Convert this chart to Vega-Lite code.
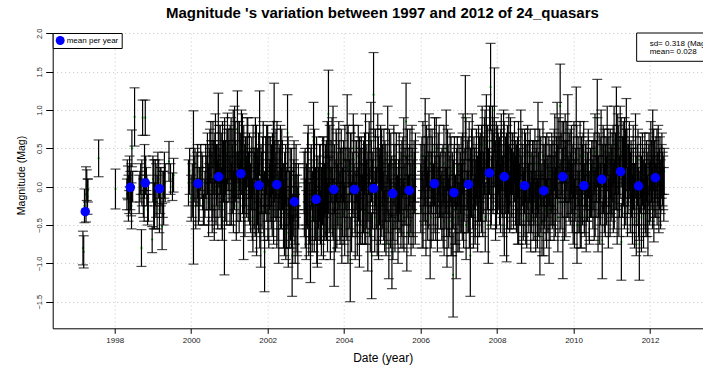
{
"$schema":"https://vega.github.io/schema/vega-lite/v6.json",
"width":650.3,"height":295.3,
"autosize":{"type":"none"},
"padding":{"left":52.7,"top":33,"right":0,"bottom":43.7},
"background":"white",
"config":{"view":{"stroke":null},"font":"Liberation Sans"},
"datasets":{
"obs":[
{"t":1997.17,"m":-0.80,"e":0.22},{"t":1997.19,"m":-0.85,"e":0.21},{"t":1997.21,"m":-0.25,"e":0.22},{"t":1997.25,"m":-0.10,"e":0.36},{"t":1997.27,"m":0.02,"e":0.20},{"t":1997.29,"m":-0.13,"e":0.23},{"t":1997.30,"m":-0.05,"e":0.15},
{"t":1997.58,"m":0.37,"e":0.24},{"t":1998.02,"m":-0.03,"e":0.26},
{"t":1998.32,"m":-0.10,"e":0.20},{"t":1998.35,"m":0.05,"e":0.22},{"t":1998.38,"m":-0.20,"e":0.15},{"t":1998.41,"m":-0.05,"e":0.25},{"t":1998.43,"m":-0.04,"e":0.34},{"t":1998.45,"m":0.50,"e":0.24},{"t":1998.52,"m":0.91,"e":0.38},
{"t":1998.33,"m":0.10,"e":0.25},{"t":1998.36,"m":-0.15,"e":0.30},{"t":1998.39,"m":0.20,"e":0.20},{"t":1998.44,"m":-0.25,"e":0.30},{"t":1998.47,"m":0.00,"e":0.20},
{"t":1998.66,"m":0.00,"e":0.20},{"t":1998.68,"m":0.10,"e":0.20},{"t":1998.70,"m":-0.80,"e":0.24},{"t":1998.73,"m":0.90,"e":0.23},{"t":1998.75,"m":-0.15,"e":0.25},{"t":1998.78,"m":0.20,"e":0.35},{"t":1998.80,"m":0.90,"e":0.23},{"t":1998.83,"m":0.10,"e":0.15},{"t":1998.86,"m":-0.30,"e":0.20},
{"t":1998.64,"m":-0.10,"e":0.25},{"t":1998.71,"m":0.05,"e":0.30},{"t":1998.77,"m":-0.25,"e":0.20},{"t":1998.81,"m":0.15,"e":0.25},{"t":1998.84,"m":-0.05,"e":0.20},{"t":1998.88,"m":-0.20,"e":0.25},
{"t":1998.98,"m":-0.69,"e":0.17},{"t":1999.02,"m":-0.10,"e":0.45},{"t":1999.06,"m":0.05,"e":0.30},{"t":1999.11,"m":-0.20,"e":0.35},{"t":1999.15,"m":0.10,"e":0.25},{"t":1999.19,"m":-0.05,"e":0.30},{"t":1999.24,"m":-0.52,"e":0.30},{"t":1999.28,"m":-0.15,"e":0.35},{"t":1999.32,"m":0.05,"e":0.25},
{"t":1999.00,"m":0.10,"e":0.30},{"t":1999.04,"m":-0.25,"e":0.30},{"t":1999.08,"m":-0.05,"e":0.35},{"t":1999.13,"m":0.20,"e":0.25},{"t":1999.17,"m":-0.30,"e":0.30},{"t":1999.21,"m":0.00,"e":0.25},{"t":1999.26,"m":-0.10,"e":0.30},{"t":1999.30,"m":0.15,"e":0.30},
{"t":1999.42,"m":0.33,"e":0.26},{"t":1999.46,"m":0.10,"e":0.20},{"t":1999.51,"m":0.00,"e":0.18},{"t":1999.54,"m":0.15,"e":0.22},
{"t":1999.93,"m":0.05,"e":0.30},{"t":2000.00,"m":-0.15,"e":0.30},{"t":2000.06,"m":-0.01,"e":1.00},{"t":2000.10,"m":0.30,"e":0.20},{"t":2000.15,"m":0.10,"e":0.35},{"t":2000.19,"m":-0.20,"e":0.30},{"t":2000.23,"m":0.00,"e":0.25},{"t":2000.28,"m":0.15,"e":0.30},{"t":2000.32,"m":-0.30,"e":0.20},{"t":2000.36,"m":-0.10,"e":0.30},
{"t":1999.96,"m":0.20,"e":0.30},{"t":2000.03,"m":-0.05,"e":0.35},{"t":2000.08,"m":0.10,"e":0.30},{"t":2000.12,"m":-0.25,"e":0.30},{"t":2000.17,"m":0.20,"e":0.35},{"t":2000.21,"m":-0.10,"e":0.35},{"t":2000.25,"m":0.25,"e":0.30},{"t":2000.30,"m":0.05,"e":0.35},{"t":2000.34,"m":-0.20,"e":0.30},{"t":2000.38,"m":0.20,"e":0.35},
{"t":2000.41,"m":0.05,"e":0.35},{"t":2000.44,"m":0.25,"e":0.30},{"t":2000.46,"m":-0.10,"e":0.40},{"t":2000.49,"m":0.40,"e":0.35},{"t":2000.52,"m":0.15,"e":0.45},{"t":2000.55,"m":-0.25,"e":0.35},{"t":2000.57,"m":0.55,"e":0.30},{"t":2000.60,"m":0.10,"e":0.50},{"t":2000.62,"m":0.30,"e":0.40},{"t":2000.65,"m":-0.05,"e":0.45},{"t":2000.68,"m":0.20,"e":0.35},{"t":2000.71,"m":0.70,"e":0.52},{"t":2000.73,"m":0.00,"e":0.30},{"t":2000.76,"m":0.35,"e":0.45},{"t":2000.79,"m":-0.15,"e":0.40},{"t":2000.82,"m":0.45,"e":0.40},{"t":2000.85,"m":0.10,"e":0.30},{"t":2000.87,"m":-0.45,"e":0.70},{"t":2000.90,"m":0.25,"e":0.35},{"t":2000.93,"m":-0.20,"e":0.30},{"t":2000.95,"m":0.50,"e":0.46},
{"t":2000.425,"m":0.30,"e":0.40},{"t":2000.455,"m":-0.20,"e":0.45},{"t":2000.485,"m":0.10,"e":0.40},{"t":2000.515,"m":0.45,"e":0.40},{"t":2000.545,"m":0.00,"e":0.45},{"t":2000.575,"m":0.25,"e":0.35},{"t":2000.605,"m":-0.30,"e":0.40},{"t":2000.635,"m":0.50,"e":0.45},{"t":2000.665,"m":0.15,"e":0.40},{"t":2000.695,"m":-0.10,"e":0.45},{"t":2000.725,"m":0.40,"e":0.40},{"t":2000.755,"m":0.05,"e":0.45},{"t":2000.785,"m":0.30,"e":0.40},{"t":2000.815,"m":-0.25,"e":0.45},{"t":2000.845,"m":0.20,"e":0.40},{"t":2000.875,"m":0.55,"e":0.35},{"t":2000.905,"m":0.00,"e":0.45},{"t":2000.935,"m":0.35,"e":0.40},
{"t":2000.99,"m":0.20,"e":0.40},{"t":2001.02,"m":0.45,"e":0.35},{"t":2001.05,"m":-0.10,"e":0.40},{"t":2001.07,"m":0.30,"e":0.45},{"t":2001.10,"m":0.60,"e":0.40},{"t":2001.13,"m":0.05,"e":0.35},{"t":2001.15,"m":0.35,"e":0.50},{"t":2001.18,"m":-0.25,"e":0.45},{"t":2001.21,"m":0.75,"e":0.50},{"t":2001.23,"m":0.15,"e":0.30},{"t":2001.26,"m":0.40,"e":0.45},{"t":2001.29,"m":-0.05,"e":0.40},{"t":2001.31,"m":0.25,"e":0.35},{"t":2001.34,"m":0.55,"e":0.40},{"t":2001.37,"m":-0.35,"e":0.60},{"t":2001.40,"m":0.10,"e":0.45},{"t":2001.42,"m":0.30,"e":0.35},{"t":2001.45,"m":0.00,"e":0.40},{"t":2001.48,"m":0.45,"e":0.45},{"t":2001.51,"m":0.15,"e":0.30},{"t":2001.53,"m":-0.15,"e":0.35},
{"t":2000.985,"m":0.35,"e":0.40},{"t":2001.015,"m":-0.05,"e":0.45},{"t":2001.045,"m":0.50,"e":0.40},{"t":2001.075,"m":0.10,"e":0.45},{"t":2001.105,"m":-0.20,"e":0.40},{"t":2001.135,"m":0.60,"e":0.45},{"t":2001.165,"m":0.20,"e":0.40},{"t":2001.195,"m":0.00,"e":0.45},{"t":2001.225,"m":0.45,"e":0.40},{"t":2001.255,"m":-0.15,"e":0.45},{"t":2001.285,"m":0.30,"e":0.40},{"t":2001.315,"m":0.55,"e":0.45},{"t":2001.345,"m":0.05,"e":0.40},{"t":2001.375,"m":0.35,"e":0.45},{"t":2001.405,"m":-0.25,"e":0.40},{"t":2001.435,"m":0.20,"e":0.45},{"t":2001.465,"m":0.50,"e":0.40},{"t":2001.495,"m":0.00,"e":0.45},{"t":2001.525,"m":0.30,"e":0.40},
{"t":2001.57,"m":0.10,"e":0.40},{"t":2001.60,"m":-0.30,"e":0.40},{"t":2001.62,"m":0.35,"e":0.45},{"t":2001.65,"m":-0.05,"e":0.50},{"t":2001.68,"m":0.50,"e":0.40},{"t":2001.71,"m":-0.45,"e":0.45},{"t":2001.73,"m":0.15,"e":0.35},{"t":2001.76,"m":-0.15,"e":0.45},{"t":2001.79,"m":0.70,"e":0.55},{"t":2001.82,"m":-0.60,"e":0.45},{"t":2001.84,"m":0.05,"e":0.40},{"t":2001.87,"m":0.30,"e":0.35},{"t":2001.90,"m":-0.25,"e":0.40},{"t":2001.92,"m":-0.85,"e":0.52},{"t":2001.95,"m":0.20,"e":0.45},{"t":2001.98,"m":-0.10,"e":0.35},{"t":2002.00,"m":0.40,"e":0.40},{"t":2002.03,"m":-0.35,"e":0.45},{"t":2002.05,"m":0.00,"e":0.30},{"t":2002.07,"m":0.25,"e":0.40},
{"t":2001.555,"m":-0.15,"e":0.45},{"t":2001.585,"m":0.25,"e":0.40},{"t":2001.615,"m":-0.40,"e":0.45},{"t":2001.645,"m":0.10,"e":0.40},{"t":2001.675,"m":-0.20,"e":0.45},{"t":2001.705,"m":0.40,"e":0.40},{"t":2001.735,"m":-0.05,"e":0.45},{"t":2001.765,"m":0.30,"e":0.40},{"t":2001.795,"m":-0.35,"e":0.45},{"t":2001.825,"m":0.15,"e":0.40},{"t":2001.855,"m":-0.10,"e":0.45},{"t":2001.885,"m":0.45,"e":0.40},{"t":2001.915,"m":-0.25,"e":0.45},{"t":2001.945,"m":0.05,"e":0.40},{"t":2001.975,"m":0.35,"e":0.45},{"t":2002.005,"m":-0.30,"e":0.40},{"t":2002.035,"m":0.20,"e":0.45},{"t":2002.065,"m":-0.05,"e":0.40},
{"t":2002.10,"m":0.15,"e":0.40},{"t":2002.12,"m":-0.20,"e":0.45},{"t":2002.15,"m":0.45,"e":0.40},{"t":2002.17,"m":0.85,"e":0.50},{"t":2002.19,"m":-0.05,"e":0.35},{"t":2002.22,"m":0.30,"e":0.45},{"t":2002.24,"m":-0.40,"e":0.40},{"t":2002.27,"m":0.10,"e":0.50},{"t":2002.29,"m":-0.55,"e":0.45},{"t":2002.32,"m":0.20,"e":0.35},{"t":2002.34,"m":-0.15,"e":0.40},{"t":2002.37,"m":0.35,"e":0.40},{"t":2002.39,"m":0.00,"e":0.30},
{"t":2002.095,"m":-0.10,"e":0.45},{"t":2002.125,"m":0.30,"e":0.40},{"t":2002.155,"m":-0.30,"e":0.45},{"t":2002.185,"m":0.20,"e":0.40},{"t":2002.215,"m":0.00,"e":0.45},{"t":2002.245,"m":0.45,"e":0.40},{"t":2002.275,"m":-0.25,"e":0.45},{"t":2002.305,"m":0.10,"e":0.40},{"t":2002.335,"m":0.35,"e":0.45},{"t":2002.365,"m":-0.15,"e":0.40},{"t":2002.385,"m":0.15,"e":0.45},
{"t":2002.42,"m":-0.10,"e":0.40},{"t":2002.44,"m":-0.45,"e":0.45},{"t":2002.47,"m":0.15,"e":0.40},{"t":2002.49,"m":-0.30,"e":0.50},{"t":2002.52,"m":0.70,"e":0.50},{"t":2002.54,"m":-0.60,"e":0.45},{"t":2002.57,"m":-0.15,"e":0.35},{"t":2002.59,"m":0.05,"e":0.45},{"t":2002.62,"m":-0.40,"e":0.40},{"t":2002.64,"m":-0.90,"e":0.53},{"t":2002.67,"m":-0.20,"e":0.45},{"t":2002.69,"m":0.20,"e":0.40},{"t":2002.72,"m":-0.55,"e":0.45},{"t":2002.74,"m":-0.05,"e":0.35},{"t":2002.77,"m":-0.35,"e":0.50},{"t":2002.79,"m":-0.75,"e":0.45},{"t":2002.81,"m":-0.25,"e":0.30},
{"t":2002.415,"m":-0.35,"e":0.45},{"t":2002.445,"m":0.05,"e":0.40},{"t":2002.475,"m":-0.50,"e":0.45},{"t":2002.505,"m":-0.15,"e":0.40},{"t":2002.535,"m":0.20,"e":0.45},{"t":2002.565,"m":-0.40,"e":0.40},{"t":2002.595,"m":-0.25,"e":0.45},{"t":2002.625,"m":0.10,"e":0.40},{"t":2002.655,"m":-0.55,"e":0.45},{"t":2002.685,"m":-0.05,"e":0.40},{"t":2002.715,"m":-0.30,"e":0.45},{"t":2002.745,"m":0.15,"e":0.40},{"t":2002.775,"m":-0.45,"e":0.45},{"t":2002.805,"m":-0.10,"e":0.40},
{"t":2002.96,"m":-0.20,"e":0.45},{"t":2002.98,"m":0.10,"e":0.40},{"t":2003.01,"m":-0.50,"e":0.45},{"t":2003.04,"m":-0.05,"e":0.50},{"t":2003.06,"m":0.35,"e":0.45},{"t":2003.09,"m":-0.35,"e":0.40},{"t":2003.12,"m":-0.75,"e":0.50},{"t":2003.14,"m":0.15,"e":0.40},{"t":2003.17,"m":-0.25,"e":0.45},{"t":2003.20,"m":0.60,"e":0.50},{"t":2003.22,"m":-0.45,"e":0.40},{"t":2003.25,"m":-0.10,"e":0.35},{"t":2003.28,"m":0.20,"e":0.45},{"t":2003.30,"m":-0.60,"e":0.45},{"t":2003.33,"m":-0.15,"e":0.40},{"t":2003.36,"m":0.05,"e":0.50},{"t":2003.38,"m":-0.40,"e":0.35},{"t":2003.41,"m":-0.20,"e":0.45},{"t":2003.44,"m":0.25,"e":0.40},{"t":2003.46,"m":-0.55,"e":0.40},{"t":2003.49,"m":-0.05,"e":0.35},
{"t":2002.955,"m":0.05,"e":0.40},{"t":2002.985,"m":-0.35,"e":0.45},{"t":2003.015,"m":-0.10,"e":0.40},{"t":2003.045,"m":0.25,"e":0.45},{"t":2003.075,"m":-0.50,"e":0.40},{"t":2003.105,"m":-0.20,"e":0.45},{"t":2003.135,"m":0.10,"e":0.40},{"t":2003.165,"m":-0.40,"e":0.45},{"t":2003.195,"m":-0.05,"e":0.40},{"t":2003.225,"m":0.30,"e":0.45},{"t":2003.255,"m":-0.30,"e":0.40},{"t":2003.285,"m":-0.55,"e":0.45},{"t":2003.315,"m":0.00,"e":0.40},{"t":2003.345,"m":-0.25,"e":0.45},{"t":2003.375,"m":0.15,"e":0.40},{"t":2003.405,"m":-0.45,"e":0.45},{"t":2003.435,"m":-0.10,"e":0.40},{"t":2003.465,"m":0.20,"e":0.45},{"t":2003.495,"m":-0.30,"e":0.40},
{"t":2003.51,"m":0.10,"e":0.45},{"t":2003.54,"m":-0.30,"e":0.40},{"t":2003.56,"m":0.40,"e":0.45},{"t":2003.59,"m":0.95,"e":0.57},{"t":2003.61,"m":-0.10,"e":0.50},{"t":2003.64,"m":-0.50,"e":0.45},{"t":2003.66,"m":0.20,"e":0.40},{"t":2003.69,"m":-0.20,"e":0.45},{"t":2003.71,"m":0.55,"e":0.50},{"t":2003.74,"m":-0.80,"e":0.50},{"t":2003.76,"m":0.00,"e":0.35},{"t":2003.79,"m":0.30,"e":0.45},{"t":2003.81,"m":-0.40,"e":0.40},{"t":2003.84,"m":-0.05,"e":0.50},{"t":2003.86,"m":0.45,"e":0.40},{"t":2003.89,"m":-0.25,"e":0.45},{"t":2003.91,"m":0.15,"e":0.35},{"t":2003.94,"m":-0.55,"e":0.45},
{"t":2003.505,"m":-0.20,"e":0.45},{"t":2003.535,"m":0.20,"e":0.40},{"t":2003.565,"m":-0.40,"e":0.45},{"t":2003.595,"m":0.05,"e":0.40},{"t":2003.625,"m":0.35,"e":0.45},{"t":2003.655,"m":-0.15,"e":0.40},{"t":2003.685,"m":0.45,"e":0.45},{"t":2003.715,"m":-0.30,"e":0.40},{"t":2003.745,"m":0.10,"e":0.45},{"t":2003.775,"m":-0.45,"e":0.40},{"t":2003.805,"m":0.25,"e":0.45},{"t":2003.835,"m":-0.10,"e":0.40},{"t":2003.865,"m":0.15,"e":0.45},{"t":2003.895,"m":-0.35,"e":0.40},{"t":2003.925,"m":0.30,"e":0.45},
{"t":2003.97,"m":0.05,"e":0.45},{"t":2004.00,"m":-0.35,"e":0.40},{"t":2004.02,"m":0.35,"e":0.45},{"t":2004.05,"m":-0.15,"e":0.50},{"t":2004.08,"m":0.70,"e":0.50},{"t":2004.10,"m":-0.55,"e":0.45},{"t":2004.13,"m":0.10,"e":0.40},{"t":2004.16,"m":-0.95,"e":0.55},{"t":2004.18,"m":0.25,"e":0.45},{"t":2004.21,"m":-0.25,"e":0.40},{"t":2004.24,"m":0.50,"e":0.45},{"t":2004.26,"m":-0.05,"e":0.35},{"t":2004.29,"m":-0.45,"e":0.50},{"t":2004.32,"m":0.20,"e":0.40},{"t":2004.34,"m":-0.20,"e":0.45},{"t":2004.37,"m":0.40,"e":0.40},{"t":2004.40,"m":-0.60,"e":0.45},{"t":2004.42,"m":0.00,"e":0.50},{"t":2004.45,"m":0.30,"e":0.35},{"t":2004.48,"m":-0.30,"e":0.45},
{"t":2003.955,"m":-0.20,"e":0.45},{"t":2003.985,"m":0.20,"e":0.40},{"t":2004.015,"m":-0.45,"e":0.45},{"t":2004.045,"m":0.10,"e":0.40},{"t":2004.075,"m":-0.25,"e":0.45},{"t":2004.105,"m":0.40,"e":0.40},{"t":2004.135,"m":-0.10,"e":0.45},{"t":2004.165,"m":0.30,"e":0.40},{"t":2004.195,"m":-0.40,"e":0.45},{"t":2004.225,"m":0.05,"e":0.40},{"t":2004.255,"m":0.35,"e":0.45},{"t":2004.285,"m":-0.20,"e":0.40},{"t":2004.315,"m":0.15,"e":0.45},{"t":2004.345,"m":-0.50,"e":0.40},{"t":2004.375,"m":0.00,"e":0.45},{"t":2004.405,"m":0.25,"e":0.40},{"t":2004.435,"m":-0.30,"e":0.45},{"t":2004.465,"m":0.10,"e":0.40},{"t":2004.495,"m":-0.15,"e":0.45},
{"t":2004.51,"m":0.15,"e":0.45},{"t":2004.54,"m":-0.35,"e":0.40},{"t":2004.56,"m":0.45,"e":0.50},{"t":2004.59,"m":-0.10,"e":0.45},{"t":2004.62,"m":-0.60,"e":0.50},{"t":2004.64,"m":0.30,"e":0.40},{"t":2004.67,"m":-0.20,"e":0.45},{"t":2004.70,"m":0.60,"e":0.50},{"t":2004.72,"m":-0.90,"e":0.56},{"t":2004.75,"m":0.05,"e":0.40},{"t":2004.77,"m":1.20,"e":0.55},{"t":2004.80,"m":-0.40,"e":0.45},{"t":2004.82,"m":0.25,"e":0.50},{"t":2004.85,"m":-0.15,"e":0.40},{"t":2004.88,"m":0.50,"e":0.45},{"t":2004.90,"m":-0.50,"e":0.45},{"t":2004.93,"m":0.10,"e":0.40},{"t":2004.95,"m":-0.25,"e":0.50},{"t":2004.98,"m":0.35,"e":0.40},
{"t":2004.505,"m":-0.15,"e":0.45},{"t":2004.535,"m":0.30,"e":0.40},{"t":2004.565,"m":-0.30,"e":0.45},{"t":2004.595,"m":0.15,"e":0.40},{"t":2004.625,"m":0.00,"e":0.45},{"t":2004.655,"m":0.45,"e":0.40},{"t":2004.685,"m":-0.40,"e":0.45},{"t":2004.715,"m":0.20,"e":0.40},{"t":2004.745,"m":-0.10,"e":0.45},{"t":2004.775,"m":0.35,"e":0.40},{"t":2004.805,"m":-0.25,"e":0.45},{"t":2004.835,"m":0.10,"e":0.40},{"t":2004.865,"m":-0.45,"e":0.45},{"t":2004.895,"m":0.25,"e":0.40},{"t":2004.925,"m":-0.05,"e":0.45},{"t":2004.955,"m":0.40,"e":0.40},{"t":2004.985,"m":-0.20,"e":0.45},
{"t":2005.01,"m":-0.10,"e":0.45},{"t":2005.04,"m":0.30,"e":0.45},{"t":2005.06,"m":-0.45,"e":0.40},{"t":2005.09,"m":0.05,"e":0.50},{"t":2005.12,"m":-0.30,"e":0.45},{"t":2005.14,"m":0.55,"e":0.50},{"t":2005.17,"m":-0.75,"e":0.45},{"t":2005.20,"m":-0.05,"e":0.40},{"t":2005.22,"m":0.25,"e":0.45},{"t":2005.25,"m":-0.85,"e":0.48},{"t":2005.28,"m":-0.20,"e":0.50},{"t":2005.30,"m":0.40,"e":0.40},{"t":2005.33,"m":-0.40,"e":0.45},{"t":2005.36,"m":0.10,"e":0.45},{"t":2005.38,"m":-0.15,"e":0.40},{"t":2005.41,"m":-0.55,"e":0.45},{"t":2005.44,"m":0.20,"e":0.50},{"t":2005.46,"m":-0.25,"e":0.35},{"t":2005.49,"m":0.00,"e":0.45},
{"t":2005.005,"m":0.15,"e":0.40},{"t":2005.035,"m":-0.25,"e":0.45},{"t":2005.065,"m":0.20,"e":0.40},{"t":2005.095,"m":-0.45,"e":0.45},{"t":2005.125,"m":0.05,"e":0.40},{"t":2005.155,"m":-0.15,"e":0.45},{"t":2005.185,"m":0.35,"e":0.40},{"t":2005.215,"m":-0.35,"e":0.45},{"t":2005.245,"m":0.00,"e":0.40},{"t":2005.275,"m":-0.50,"e":0.45},{"t":2005.305,"m":0.15,"e":0.40},{"t":2005.335,"m":-0.10,"e":0.45},{"t":2005.365,"m":0.30,"e":0.40},{"t":2005.395,"m":-0.30,"e":0.45},{"t":2005.425,"m":-0.05,"e":0.40},{"t":2005.455,"m":0.10,"e":0.45},{"t":2005.485,"m":-0.40,"e":0.40},
{"t":2005.51,"m":0.15,"e":0.45},{"t":2005.54,"m":-0.35,"e":0.45},{"t":2005.56,"m":0.40,"e":0.50},{"t":2005.59,"m":-0.10,"e":0.40},{"t":2005.62,"m":0.85,"e":0.50},{"t":2005.64,"m":-0.60,"e":0.50},{"t":2005.67,"m":0.05,"e":0.45},{"t":2005.70,"m":-0.25,"e":0.40},{"t":2005.72,"m":0.30,"e":0.45},{"t":2005.75,"m":-0.45,"e":0.45},{"t":2005.78,"m":0.10,"e":0.40},{"t":2005.80,"m":-0.15,"e":0.50},{"t":2005.83,"m":0.20,"e":0.40},{"t":2005.86,"m":-0.30,"e":0.45},
{"t":2005.505,"m":-0.20,"e":0.45},{"t":2005.535,"m":0.25,"e":0.40},{"t":2005.565,"m":-0.40,"e":0.45},{"t":2005.595,"m":0.10,"e":0.40},{"t":2005.625,"m":-0.05,"e":0.45},{"t":2005.655,"m":0.35,"e":0.40},{"t":2005.685,"m":-0.30,"e":0.45},{"t":2005.715,"m":0.15,"e":0.40},{"t":2005.745,"m":-0.15,"e":0.45},{"t":2005.775,"m":0.40,"e":0.40},{"t":2005.805,"m":-0.35,"e":0.45},{"t":2005.835,"m":0.05,"e":0.40},{"t":2005.865,"m":0.25,"e":0.45},
{"t":2006.01,"m":0.10,"e":0.45},{"t":2006.04,"m":-0.30,"e":0.50},{"t":2006.06,"m":0.40,"e":0.45},{"t":2006.09,"m":-0.05,"e":0.40},{"t":2006.12,"m":0.65,"e":0.50},{"t":2006.14,"m":-0.45,"e":0.45},{"t":2006.17,"m":0.20,"e":0.45},{"t":2006.20,"m":-0.15,"e":0.40},{"t":2006.22,"m":0.45,"e":0.50},{"t":2006.25,"m":-0.70,"e":0.50},{"t":2006.28,"m":0.05,"e":0.40},{"t":2006.30,"m":0.30,"e":0.45},{"t":2006.33,"m":-0.25,"e":0.45},{"t":2006.36,"m":0.15,"e":0.40},{"t":2006.38,"m":-0.10,"e":0.50},{"t":2006.41,"m":0.50,"e":0.40},{"t":2006.44,"m":-0.40,"e":0.45},{"t":2006.46,"m":0.25,"e":0.45},{"t":2006.49,"m":0.00,"e":0.40},{"t":2006.52,"m":-0.20,"e":0.35},
{"t":2006.005,"m":-0.15,"e":0.45},{"t":2006.035,"m":0.25,"e":0.40},{"t":2006.065,"m":-0.35,"e":0.45},{"t":2006.095,"m":0.15,"e":0.40},{"t":2006.125,"m":-0.05,"e":0.45},{"t":2006.155,"m":0.40,"e":0.40},{"t":2006.185,"m":-0.25,"e":0.45},{"t":2006.215,"m":0.05,"e":0.40},{"t":2006.245,"m":0.30,"e":0.45},{"t":2006.275,"m":-0.40,"e":0.40},{"t":2006.305,"m":0.20,"e":0.45},{"t":2006.335,"m":-0.10,"e":0.40},{"t":2006.365,"m":0.45,"e":0.45},{"t":2006.395,"m":-0.30,"e":0.40},{"t":2006.425,"m":0.10,"e":0.45},{"t":2006.455,"m":-0.15,"e":0.40},{"t":2006.485,"m":0.35,"e":0.45},{"t":2006.515,"m":0.05,"e":0.40},
{"t":2006.56,"m":0.05,"e":0.45},{"t":2006.59,"m":-0.35,"e":0.45},{"t":2006.61,"m":0.30,"e":0.50},{"t":2006.64,"m":-0.15,"e":0.40},{"t":2006.67,"m":0.50,"e":0.50},{"t":2006.69,"m":-0.55,"e":0.50},{"t":2006.72,"m":0.10,"e":0.45},{"t":2006.75,"m":-0.25,"e":0.40},{"t":2006.77,"m":0.25,"e":0.45},{"t":2006.80,"m":-0.45,"e":0.45},{"t":2006.83,"m":-0.05,"e":0.50},{"t":2006.85,"m":-1.15,"e":0.55},{"t":2006.88,"m":0.15,"e":0.40},{"t":2006.90,"m":-0.30,"e":0.45},{"t":2006.93,"m":-0.70,"e":0.50},{"t":2006.96,"m":0.20,"e":0.45},{"t":2006.98,"m":-0.10,"e":0.40},{"t":2007.01,"m":-0.40,"e":0.45},{"t":2007.04,"m":0.05,"e":0.40},
{"t":2006.555,"m":-0.25,"e":0.45},{"t":2006.585,"m":0.15,"e":0.40},{"t":2006.615,"m":-0.45,"e":0.45},{"t":2006.645,"m":0.05,"e":0.40},{"t":2006.675,"m":-0.20,"e":0.45},{"t":2006.705,"m":0.35,"e":0.40},{"t":2006.735,"m":-0.35,"e":0.45},{"t":2006.765,"m":0.00,"e":0.40},{"t":2006.795,"m":0.20,"e":0.45},{"t":2006.825,"m":-0.50,"e":0.40},{"t":2006.855,"m":-0.10,"e":0.45},{"t":2006.885,"m":0.25,"e":0.40},{"t":2006.915,"m":-0.30,"e":0.45},{"t":2006.945,"m":0.10,"e":0.40},{"t":2006.975,"m":-0.40,"e":0.45},{"t":2007.005,"m":0.15,"e":0.40},{"t":2007.035,"m":-0.15,"e":0.45},
{"t":2007.06,"m":0.20,"e":0.45},{"t":2007.09,"m":-0.25,"e":0.45},{"t":2007.11,"m":0.45,"e":0.50},{"t":2007.14,"m":-0.05,"e":0.40},{"t":2007.17,"m":0.90,"e":0.55},{"t":2007.19,"m":-0.50,"e":0.45},{"t":2007.22,"m":0.15,"e":0.45},{"t":2007.25,"m":-0.20,"e":0.40},{"t":2007.27,"m":0.35,"e":0.50},{"t":2007.30,"m":-0.90,"e":0.53},{"t":2007.33,"m":0.05,"e":0.45},{"t":2007.35,"m":0.55,"e":0.40},{"t":2007.38,"m":-0.35,"e":0.45},{"t":2007.41,"m":0.10,"e":0.40},{"t":2007.43,"m":-0.15,"e":0.50},{"t":2007.46,"m":0.30,"e":0.45},{"t":2007.49,"m":-0.45,"e":0.40},{"t":2007.51,"m":0.00,"e":0.45},{"t":2007.54,"m":0.25,"e":0.40},
{"t":2007.065,"m":-0.15,"e":0.45},{"t":2007.095,"m":0.30,"e":0.40},{"t":2007.125,"m":-0.35,"e":0.45},{"t":2007.155,"m":0.10,"e":0.40},{"t":2007.185,"m":0.45,"e":0.45},{"t":2007.215,"m":-0.20,"e":0.40},{"t":2007.245,"m":0.20,"e":0.45},{"t":2007.275,"m":-0.40,"e":0.40},{"t":2007.305,"m":0.05,"e":0.45},{"t":2007.335,"m":0.35,"e":0.40},{"t":2007.365,"m":-0.10,"e":0.45},{"t":2007.395,"m":0.25,"e":0.40},{"t":2007.425,"m":-0.30,"e":0.45},{"t":2007.455,"m":0.15,"e":0.40},{"t":2007.485,"m":-0.05,"e":0.45},{"t":2007.515,"m":0.40,"e":0.40},{"t":2007.535,"m":-0.20,"e":0.45},
{"t":2007.56,"m":0.25,"e":0.45},{"t":2007.59,"m":-0.15,"e":0.45},{"t":2007.61,"m":0.55,"e":0.50},{"t":2007.64,"m":0.05,"e":0.40},{"t":2007.67,"m":0.40,"e":0.50},{"t":2007.69,"m":-0.40,"e":0.45},{"t":2007.72,"m":0.70,"e":0.50},{"t":2007.75,"m":0.15,"e":0.45},{"t":2007.77,"m":-0.50,"e":0.50},{"t":2007.80,"m":0.35,"e":0.45},{"t":2007.83,"m":1.30,"e":0.57},{"t":2007.85,"m":-0.05,"e":0.45},{"t":2007.88,"m":0.60,"e":0.45},{"t":2007.90,"m":0.20,"e":0.50},{"t":2007.93,"m":1.00,"e":0.55},{"t":2007.96,"m":-0.25,"e":0.45},{"t":2007.98,"m":0.45,"e":0.40},{"t":2008.01,"m":0.10,"e":0.45},{"t":2008.03,"m":0.30,"e":0.40},
{"t":2007.565,"m":0.00,"e":0.45},{"t":2007.595,"m":0.40,"e":0.40},{"t":2007.625,"m":-0.20,"e":0.45},{"t":2007.655,"m":0.25,"e":0.40},{"t":2007.685,"m":0.55,"e":0.45},{"t":2007.715,"m":-0.05,"e":0.40},{"t":2007.745,"m":0.35,"e":0.45},{"t":2007.775,"m":0.10,"e":0.40},{"t":2007.805,"m":0.60,"e":0.45},{"t":2007.835,"m":-0.15,"e":0.40},{"t":2007.865,"m":0.30,"e":0.45},{"t":2007.895,"m":0.05,"e":0.40},{"t":2007.925,"m":0.45,"e":0.45},{"t":2007.955,"m":0.20,"e":0.40},{"t":2007.985,"m":-0.10,"e":0.45},{"t":2008.015,"m":0.40,"e":0.40},{"t":2008.045,"m":0.15,"e":0.45},
{"t":2008.06,"m":0.20,"e":0.45},{"t":2008.09,"m":-0.15,"e":0.45},{"t":2008.11,"m":0.45,"e":0.50},{"t":2008.14,"m":0.00,"e":0.40},{"t":2008.17,"m":0.55,"e":0.45},{"t":2008.19,"m":-0.40,"e":0.50},{"t":2008.22,"m":0.25,"e":0.40},{"t":2008.25,"m":-0.50,"e":0.48},{"t":2008.27,"m":0.35,"e":0.45},{"t":2008.30,"m":0.10,"e":0.45},{"t":2008.33,"m":-0.20,"e":0.40},{"t":2008.35,"m":0.40,"e":0.50},{"t":2008.38,"m":0.05,"e":0.45},{"t":2008.41,"m":0.30,"e":0.40},{"t":2008.43,"m":-0.10,"e":0.45},{"t":2008.46,"m":0.20,"e":0.40},{"t":2008.49,"m":0.15,"e":0.45},
{"t":2008.065,"m":-0.05,"e":0.45},{"t":2008.095,"m":0.35,"e":0.40},{"t":2008.125,"m":0.10,"e":0.45},{"t":2008.155,"m":-0.25,"e":0.40},{"t":2008.185,"m":0.40,"e":0.45},{"t":2008.215,"m":0.05,"e":0.40},{"t":2008.245,"m":0.25,"e":0.45},{"t":2008.275,"m":-0.15,"e":0.40},{"t":2008.305,"m":0.50,"e":0.45},{"t":2008.335,"m":0.15,"e":0.40},{"t":2008.365,"m":-0.10,"e":0.45},{"t":2008.395,"m":0.30,"e":0.40},{"t":2008.425,"m":0.00,"e":0.45},{"t":2008.455,"m":0.45,"e":0.40},{"t":2008.485,"m":-0.05,"e":0.45},
{"t":2008.51,"m":0.10,"e":0.45},{"t":2008.54,"m":-0.30,"e":0.45},{"t":2008.56,"m":0.35,"e":0.50},{"t":2008.59,"m":-0.10,"e":0.40},{"t":2008.62,"m":0.55,"e":0.45},{"t":2008.64,"m":-0.50,"e":0.50},{"t":2008.67,"m":0.15,"e":0.40},{"t":2008.70,"m":-0.20,"e":0.45},{"t":2008.72,"m":0.30,"e":0.45},{"t":2008.75,"m":-0.35,"e":0.40},{"t":2008.78,"m":0.05,"e":0.50},{"t":2008.80,"m":0.40,"e":0.40},{"t":2008.83,"m":-0.15,"e":0.45},{"t":2008.85,"m":0.20,"e":0.40},{"t":2008.88,"m":-0.40,"e":0.45},{"t":2008.91,"m":0.00,"e":0.45},{"t":2008.93,"m":0.25,"e":0.35},
{"t":2008.505,"m":-0.15,"e":0.45},{"t":2008.535,"m":0.25,"e":0.40},{"t":2008.565,"m":-0.30,"e":0.45},{"t":2008.595,"m":0.10,"e":0.40},{"t":2008.625,"m":-0.05,"e":0.45},{"t":2008.655,"m":0.35,"e":0.40},{"t":2008.685,"m":-0.25,"e":0.45},{"t":2008.715,"m":0.05,"e":0.40},{"t":2008.745,"m":0.25,"e":0.45},{"t":2008.775,"m":-0.40,"e":0.40},{"t":2008.805,"m":0.15,"e":0.45},{"t":2008.835,"m":-0.10,"e":0.40},{"t":2008.865,"m":0.30,"e":0.45},{"t":2008.895,"m":-0.20,"e":0.40},{"t":2008.925,"m":0.10,"e":0.45},{"t":2008.945,"m":-0.30,"e":0.40},
{"t":2008.96,"m":-0.05,"e":0.45},{"t":2008.99,"m":0.30,"e":0.45},{"t":2009.01,"m":-0.40,"e":0.45},{"t":2009.04,"m":0.10,"e":0.50},{"t":2009.07,"m":0.60,"e":0.50},{"t":2009.09,"m":-0.25,"e":0.40},{"t":2009.12,"m":-0.65,"e":0.50},{"t":2009.14,"m":0.20,"e":0.45},{"t":2009.17,"m":-0.10,"e":0.40},{"t":2009.20,"m":0.40,"e":0.45},{"t":2009.22,"m":-0.45,"e":0.45},{"t":2009.25,"m":0.05,"e":0.50},{"t":2009.28,"m":-0.30,"e":0.40},{"t":2009.30,"m":0.25,"e":0.45},{"t":2009.33,"m":-0.15,"e":0.45},{"t":2009.36,"m":-0.55,"e":0.45},{"t":2009.38,"m":0.15,"e":0.40},{"t":2009.41,"m":-0.05,"e":0.45},{"t":2009.43,"m":0.30,"e":0.40},
{"t":2008.965,"m":0.20,"e":0.40},{"t":2008.995,"m":-0.25,"e":0.45},{"t":2009.025,"m":0.10,"e":0.40},{"t":2009.055,"m":-0.35,"e":0.45},{"t":2009.085,"m":0.05,"e":0.40},{"t":2009.115,"m":0.30,"e":0.45},{"t":2009.145,"m":-0.20,"e":0.40},{"t":2009.175,"m":-0.45,"e":0.45},{"t":2009.205,"m":0.15,"e":0.40},{"t":2009.235,"m":-0.10,"e":0.45},{"t":2009.265,"m":0.25,"e":0.40},{"t":2009.295,"m":-0.35,"e":0.45},{"t":2009.325,"m":0.00,"e":0.40},{"t":2009.355,"m":0.20,"e":0.45},{"t":2009.385,"m":-0.30,"e":0.40},{"t":2009.415,"m":0.10,"e":0.45},{"t":2009.445,"m":-0.15,"e":0.40},
{"t":2009.46,"m":0.15,"e":0.45},{"t":2009.49,"m":-0.25,"e":0.45},{"t":2009.51,"m":0.45,"e":0.50},{"t":2009.54,"m":0.00,"e":0.45},{"t":2009.57,"m":0.60,"e":0.50},{"t":2009.59,"m":-0.40,"e":0.45},{"t":2009.62,"m":0.25,"e":0.40},{"t":2009.65,"m":1.05,"e":0.55},{"t":2009.67,"m":-0.10,"e":0.45},{"t":2009.70,"m":0.35,"e":0.50},{"t":2009.72,"m":-0.70,"e":0.50},{"t":2009.75,"m":0.20,"e":0.40},{"t":2009.78,"m":0.50,"e":0.45},{"t":2009.80,"m":-0.20,"e":0.45},{"t":2009.83,"m":0.10,"e":0.50},{"t":2009.85,"m":0.70,"e":0.50},{"t":2009.88,"m":-0.05,"e":0.40},{"t":2009.91,"m":0.30,"e":0.45},{"t":2009.93,"m":0.05,"e":0.40},
{"t":2009.465,"m":-0.05,"e":0.45},{"t":2009.495,"m":0.35,"e":0.40},{"t":2009.525,"m":-0.20,"e":0.45},{"t":2009.555,"m":0.25,"e":0.40},{"t":2009.585,"m":0.10,"e":0.45},{"t":2009.615,"m":0.50,"e":0.40},{"t":2009.645,"m":-0.15,"e":0.45},{"t":2009.675,"m":0.30,"e":0.40},{"t":2009.705,"m":0.05,"e":0.45},{"t":2009.735,"m":0.45,"e":0.40},{"t":2009.765,"m":-0.25,"e":0.45},{"t":2009.795,"m":0.20,"e":0.40},{"t":2009.825,"m":0.40,"e":0.45},{"t":2009.855,"m":0.00,"e":0.40},{"t":2009.885,"m":0.25,"e":0.45},{"t":2009.915,"m":-0.10,"e":0.40},{"t":2009.945,"m":0.35,"e":0.45},
{"t":2009.96,"m":0.10,"e":0.45},{"t":2009.99,"m":-0.30,"e":0.45},{"t":2010.01,"m":0.35,"e":0.50},{"t":2010.04,"m":-0.05,"e":0.40},{"t":2010.07,"m":0.80,"e":0.50},{"t":2010.09,"m":-0.50,"e":0.50},{"t":2010.12,"m":0.20,"e":0.45},{"t":2010.15,"m":-0.20,"e":0.40},{"t":2010.17,"m":0.40,"e":0.45},{"t":2010.20,"m":-0.35,"e":0.45},{"t":2010.23,"m":0.05,"e":0.50},{"t":2010.25,"m":0.30,"e":0.40},{"t":2010.28,"m":-0.15,"e":0.45},{"t":2010.31,"m":0.15,"e":0.40},{"t":2010.33,"m":-0.40,"e":0.45},{"t":2010.36,"m":0.00,"e":0.45},{"t":2010.39,"m":0.25,"e":0.40},{"t":2010.41,"m":-0.25,"e":0.45},{"t":2010.44,"m":0.10,"e":0.40},{"t":2010.47,"m":-0.05,"e":0.35},
{"t":2009.965,"m":-0.15,"e":0.45},{"t":2009.995,"m":0.25,"e":0.40},{"t":2010.025,"m":-0.35,"e":0.45},{"t":2010.055,"m":0.10,"e":0.40},{"t":2010.085,"m":0.35,"e":0.45},{"t":2010.115,"m":-0.20,"e":0.40},{"t":2010.145,"m":0.05,"e":0.45},{"t":2010.175,"m":-0.40,"e":0.40},{"t":2010.205,"m":0.20,"e":0.45},{"t":2010.235,"m":-0.10,"e":0.40},{"t":2010.265,"m":0.40,"e":0.45},{"t":2010.295,"m":-0.25,"e":0.40},{"t":2010.325,"m":0.15,"e":0.45},{"t":2010.355,"m":-0.05,"e":0.40},{"t":2010.385,"m":0.30,"e":0.45},{"t":2010.415,"m":-0.35,"e":0.40},{"t":2010.445,"m":0.05,"e":0.45},{"t":2010.475,"m":0.20,"e":0.40},
{"t":2010.51,"m":0.15,"e":0.45},{"t":2010.54,"m":-0.25,"e":0.45},{"t":2010.56,"m":0.45,"e":0.50},{"t":2010.59,"m":0.00,"e":0.40},{"t":2010.62,"m":0.90,"e":0.50},{"t":2010.64,"m":-0.40,"e":0.45},{"t":2010.67,"m":0.25,"e":0.45},{"t":2010.70,"m":-0.10,"e":0.40},{"t":2010.72,"m":0.50,"e":0.50},{"t":2010.75,"m":-0.70,"e":0.50},{"t":2010.78,"m":0.10,"e":0.45},{"t":2010.80,"m":0.35,"e":0.40},{"t":2010.83,"m":-0.20,"e":0.45},{"t":2010.85,"m":0.20,"e":0.45},{"t":2010.88,"m":0.60,"e":0.45},{"t":2010.91,"m":-0.35,"e":0.45},{"t":2010.93,"m":0.05,"e":0.40},{"t":2010.96,"m":0.30,"e":0.45},{"t":2010.98,"m":-0.05,"e":0.40},
{"t":2010.505,"m":-0.10,"e":0.45},{"t":2010.535,"m":0.30,"e":0.40},{"t":2010.565,"m":-0.20,"e":0.45},{"t":2010.595,"m":0.20,"e":0.40},{"t":2010.625,"m":0.45,"e":0.45},{"t":2010.655,"m":0.00,"e":0.40},{"t":2010.685,"m":-0.30,"e":0.45},{"t":2010.715,"m":0.25,"e":0.40},{"t":2010.745,"m":0.10,"e":0.45},{"t":2010.775,"m":0.40,"e":0.40},{"t":2010.805,"m":-0.15,"e":0.45},{"t":2010.835,"m":0.15,"e":0.40},{"t":2010.865,"m":-0.05,"e":0.45},{"t":2010.895,"m":0.35,"e":0.40},{"t":2010.925,"m":0.20,"e":0.45},{"t":2010.955,"m":-0.25,"e":0.40},{"t":2010.985,"m":0.10,"e":0.45},
{"t":2011.01,"m":0.25,"e":0.45},{"t":2011.04,"m":-0.15,"e":0.45},{"t":2011.06,"m":0.55,"e":0.50},{"t":2011.09,"m":0.10,"e":0.40},{"t":2011.12,"m":0.80,"e":0.50},{"t":2011.14,"m":-0.30,"e":0.45},{"t":2011.17,"m":0.35,"e":0.45},{"t":2011.20,"m":0.00,"e":0.40},{"t":2011.22,"m":0.60,"e":0.45},{"t":2011.25,"m":-0.72,"e":0.50},{"t":2011.28,"m":0.20,"e":0.45},{"t":2011.30,"m":0.45,"e":0.40},{"t":2011.33,"m":-0.10,"e":0.45},{"t":2011.36,"m":0.30,"e":0.45},{"t":2011.38,"m":0.70,"e":0.45},{"t":2011.41,"m":-0.20,"e":0.45},{"t":2011.43,"m":0.15,"e":0.40},{"t":2011.46,"m":0.40,"e":0.45},{"t":2011.49,"m":0.05,"e":0.40},
{"t":2011.005,"m":0.05,"e":0.45},{"t":2011.035,"m":0.40,"e":0.40},{"t":2011.065,"m":-0.10,"e":0.45},{"t":2011.095,"m":0.30,"e":0.40},{"t":2011.125,"m":0.15,"e":0.45},{"t":2011.155,"m":0.55,"e":0.40},{"t":2011.185,"m":-0.20,"e":0.45},{"t":2011.215,"m":0.25,"e":0.40},{"t":2011.245,"m":0.45,"e":0.45},{"t":2011.275,"m":0.00,"e":0.40},{"t":2011.305,"m":0.20,"e":0.45},{"t":2011.335,"m":0.50,"e":0.40},{"t":2011.365,"m":-0.05,"e":0.45},{"t":2011.395,"m":0.35,"e":0.40},{"t":2011.425,"m":0.10,"e":0.45},{"t":2011.455,"m":0.25,"e":0.40},{"t":2011.485,"m":-0.15,"e":0.45},
{"t":2011.51,"m":0.05,"e":0.45},{"t":2011.54,"m":-0.30,"e":0.45},{"t":2011.56,"m":0.35,"e":0.45},{"t":2011.59,"m":-0.10,"e":0.40},{"t":2011.62,"m":0.50,"e":0.45},{"t":2011.64,"m":-0.45,"e":0.45},{"t":2011.67,"m":0.15,"e":0.40},{"t":2011.70,"m":-0.20,"e":0.45},{"t":2011.72,"m":-0.75,"e":0.47},{"t":2011.75,"m":0.25,"e":0.40},{"t":2011.78,"m":-0.05,"e":0.45},{"t":2011.80,"m":0.30,"e":0.40},{"t":2011.83,"m":-0.35,"e":0.45},{"t":2011.85,"m":0.10,"e":0.40},{"t":2011.88,"m":-0.15,"e":0.45},{"t":2011.91,"m":0.20,"e":0.40},{"t":2011.93,"m":-0.25,"e":0.40},
{"t":2011.505,"m":0.20,"e":0.40},{"t":2011.535,"m":-0.15,"e":0.45},{"t":2011.565,"m":0.10,"e":0.40},{"t":2011.595,"m":-0.35,"e":0.45},{"t":2011.625,"m":0.25,"e":0.40},{"t":2011.655,"m":-0.05,"e":0.45},{"t":2011.685,"m":0.35,"e":0.40},{"t":2011.715,"m":-0.25,"e":0.45},{"t":2011.745,"m":0.05,"e":0.40},{"t":2011.775,"m":-0.40,"e":0.45},{"t":2011.805,"m":0.15,"e":0.40},{"t":2011.835,"m":-0.10,"e":0.45},{"t":2011.865,"m":0.30,"e":0.40},{"t":2011.895,"m":-0.20,"e":0.45},{"t":2011.925,"m":0.05,"e":0.40},{"t":2011.945,"m":-0.45,"e":0.45},
{"t":2011.97,"m":0.15,"e":0.40},{"t":2011.99,"m":-0.10,"e":0.40},{"t":2012.02,"m":0.40,"e":0.45},{"t":2012.05,"m":0.05,"e":0.35},{"t":2012.07,"m":0.55,"e":0.45},{"t":2012.10,"m":-0.30,"e":0.42},{"t":2012.12,"m":0.20,"e":0.40},{"t":2012.15,"m":-0.05,"e":0.35},{"t":2012.18,"m":0.35,"e":0.40},{"t":2012.20,"m":0.10,"e":0.35},{"t":2012.23,"m":-0.20,"e":0.40},{"t":2012.26,"m":0.25,"e":0.40},{"t":2012.28,"m":0.00,"e":0.35},{"t":2012.31,"m":0.30,"e":0.40},{"t":2012.33,"m":0.10,"e":0.35},{"t":2012.36,"m":-0.10,"e":0.35},{"t":2012.37,"m":0.20,"e":0.30},
{"t":2011.975,"m":0.30,"e":0.40},{"t":2012.005,"m":-0.05,"e":0.40},{"t":2012.035,"m":0.20,"e":0.40},{"t":2012.065,"m":-0.15,"e":0.40},{"t":2012.095,"m":0.35,"e":0.40},{"t":2012.125,"m":0.00,"e":0.40},{"t":2012.155,"m":0.25,"e":0.40},{"t":2012.185,"m":-0.10,"e":0.40},{"t":2012.215,"m":0.40,"e":0.40},{"t":2012.245,"m":0.10,"e":0.40},{"t":2012.275,"m":-0.15,"e":0.40},{"t":2012.305,"m":0.20,"e":0.35},{"t":2012.345,"m":0.05,"e":0.35}
],
"means":[
{"t":1997.23,"m":-0.326},{"t":1998.41,"m":-0.008},{"t":1998.80,"m":0.05},{"t":1999.17,"m":-0.026},{"t":2000.18,"m":0.04},{"t":2000.72,"m":0.13},{"t":2001.30,"m":0.17},{"t":2001.77,"m":0.018},{"t":2002.24,"m":0.026},{"t":2002.70,"m":-0.196},{"t":2003.27,"m":-0.165},{"t":2003.73,"m":-0.035},{"t":2004.27,"m":-0.035},{"t":2004.77,"m":-0.022},{"t":2005.27,"m":-0.09},{"t":2005.70,"m":-0.048},{"t":2006.36,"m":0.04},{"t":2006.87,"m":-0.078},{"t":2007.25,"m":0.03},{"t":2007.80,"m":0.18},{"t":2008.19,"m":0.13},{"t":2008.72,"m":0.013},{"t":2009.22,"m":-0.052},{"t":2009.72,"m":0.13},{"t":2010.27,"m":0.013},{"t":2010.74,"m":0.096},{"t":2011.23,"m":0.196},{"t":2011.70,"m":0.009},{"t":2012.14,"m":0.117}
],
"statbox":[{"x1":2011.65,"x2":2013.9,"y1":2.005,"y2":1.636}],
"stattext":[{"x":2011.99,"y":1.861,"label":"sd= 0.318 (Mag)"},{"x":2011.99,"y":1.753,"label":"mean= 0.028"}],
"heading":[{"x":2005.0,"y":2.196,"label":"Magnitude 's variation between 1997 and 2012 of 24_quasars"}]
},
"layer":[
{"data":{"name":"obs"},
 "mark":{"type":"point","filled":true,"size":5,"color":"#00DD00","opacity":1},
 "encoding":{
  "x":{"field":"t","type":"quantitative","title":"Date (year)","scale":{"domain":[1996.379,2013.385],"nice":false,"zero":false},
   "axis":{"values":[1998,2000,2002,2004,2006,2008,2010,2012],"format":"d","tickSize":5,"tickColor":"black","domainColor":"black","labelFontSize":8,"labelColor":"#222","labelPadding":3,"labelFont":"Liberation Sans","grid":true,"gridColor":"#c8c8c8","gridDash":[1,3],"title":"Date (year)","titleFontSize":12,"titleFontWeight":"normal","titleFont":"Liberation Sans","titleColor":"black","titleBaseline":"alphabetic","titleX":330,"titleY":33.5,"titleAlign":"center","titleAnchor":null}},
  "y":{"field":"m","type":"quantitative","title":"Magnitude (Mag)","scale":{"domain":[-1.847,2.005],"nice":false,"zero":false},
   "axis":{"values":[-1.5,-1,-0.5,0,0.5,1,1.5,2],"format":".1f","tickSize":7,"tickColor":"black","domainColor":"black","labelFontSize":7.5,"labelColor":"#222","labelAngle":-90,"labelAlign":"center","labelBaseline":"middle","labelPadding":6,"labelFont":"Liberation Sans","grid":true,"gridColor":"#c8c8c8","gridDash":[1,3],"title":"Magnitude (Mag)","titleFontSize":10.5,"titleFontWeight":"normal","titleFont":"Liberation Sans","titleColor":"black","titleAngle":-90,"titleX":-31,"titleY":142,"titleAlign":"center","titleBaseline":"middle","titleAnchor":null}}
 }},
{"data":{"name":"obs"},
 "mark":{"type":"errorbar","color":"black","thickness":1.2,"ticks":{"size":10,"color":"black"}},
 "encoding":{
  "x":{"field":"t","type":"quantitative","title":"Date (year)"},
  "y":{"field":"m","type":"quantitative","title":"Magnitude (Mag)"},
  "yError":{"field":"e"}
 }},
{"mark":{"type":"rule","color":"#555555","strokeWidth":1.5},"encoding":{"y":{"datum":0}}},
{"mark":{"type":"rule","color":"black","strokeWidth":1},"encoding":{"y":{"datum":2.005}}},
{"data":{"name":"means"},
 "mark":{"type":"point","filled":true,"size":90,"opacity":1,"shape":"circle"},
 "encoding":{"x":{"field":"t","type":"quantitative","title":"Date (year)"},"y":{"field":"m","type":"quantitative","title":"Magnitude (Mag)"},
  "color":{"datum":"mean per year","type":"nominal","scale":{"range":["#0000FF"]},
   "legend":{"title":null,"orient":"top-left","offset":0,"strokeColor":"black","fillColor":"white","padding":3,"labelFontSize":8,"labelFont":"Liberation Sans","labelColor":"black","symbolSize":80,"symbolType":"circle","symbolStrokeWidth":0,"labelOffset":2,"cornerRadius":0}}}},
{"data":{"name":"statbox"},
 "mark":{"type":"rect","fill":"white","stroke":"black","strokeWidth":1},
 "encoding":{"x":{"field":"x1","type":"quantitative","title":"Date (year)"},"x2":{"field":"x2"},"y":{"field":"y1","type":"quantitative","title":"Magnitude (Mag)"},"y2":{"field":"y2"}}},
{"data":{"name":"stattext"},
 "mark":{"type":"text","align":"left","baseline":"middle","fontSize":8,"font":"Liberation Sans","color":"black"},
 "encoding":{"x":{"field":"x","type":"quantitative","title":"Date (year)"},"y":{"field":"y","type":"quantitative","title":"Magnitude (Mag)"},"text":{"field":"label"}}},
{"data":{"name":"heading"},
 "mark":{"type":"text","align":"center","baseline":"alphabetic","fontSize":15,"fontWeight":"bold","font":"Liberation Sans","color":"black","clip":false},
 "encoding":{"x":{"field":"x","type":"quantitative","title":"Date (year)"},"y":{"field":"y","type":"quantitative","title":"Magnitude (Mag)"},"text":{"field":"label"}}}
]
}
